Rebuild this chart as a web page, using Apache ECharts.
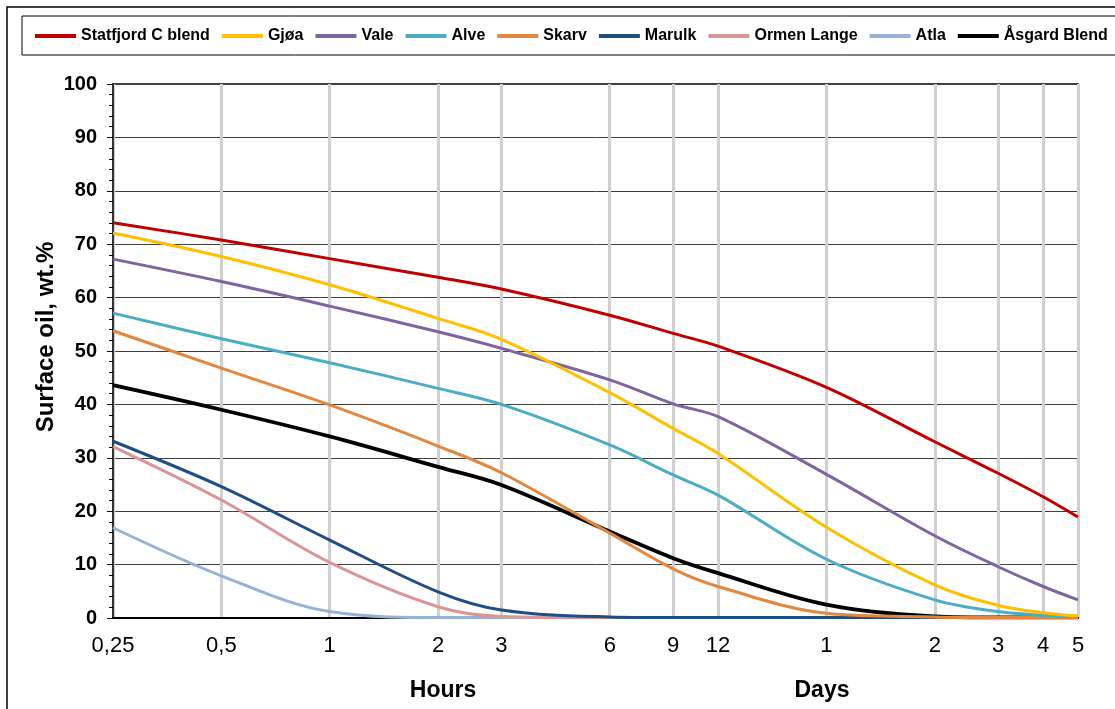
<!DOCTYPE html>
<html><head><meta charset="utf-8">
<script src="https://cdn.jsdelivr.net/npm/echarts@6/dist/echarts.min.js"></script>
<style>html,body{margin:0;padding:0;background:#fff}#c{width:1115px;height:709px}</style>
</head><body><div id="c"></div>
<script>
// time in hours
const hours = [0.25, 0.5, 1, 2, 3, 6, 9, 12, 24, 48, 72, 96, 120];
const tickValues = [0.25, 0.5, 1, 2, 3, 6, 9, 12, 24, 48, 72, 96, 120];
const tickLabels = ['0,25', '0,5', '1', '2', '3', '6', '9', '12', '1', '2', '3', '4', '5'];

const statfjord = [74.0, 70.8, 67.3, 63.8, 61.6, 56.7, 53.3, 50.9, 43.2, 33.0, 27.1, 22.7, 18.9];
const gjoa      = [72.1, 67.7, 62.4, 56.1, 52.2, 42.2, 35.5, 30.8, 17.0, 6.2, 2.4, 1.0, 0.4];
const vale      = [67.2, 63.0, 58.4, 53.6, 50.5, 44.6, 40.1, 37.7, 26.9, 15.4, 9.6, 5.9, 3.4];
const alve      = [57.1, 52.3, 47.8, 43.0, 40.0, 32.4, 26.8, 23.0, 11.0, 3.4, 1.2, 0.5, 0.3];
const skarv     = [53.8, 46.8, 39.9, 32.2, 27.2, 15.9, 9.2, 5.9, 0.9, 0.2, 0.1, 0.1, 0.1];
const marulk    = [33.1, 24.6, 14.6, 4.9, 1.5, 0.2, 0.1, 0.1, 0.1, 0.1, 0.1, 0.1, 0.1];
const ormen     = [32.1, 22.1, 10.4, 2.1, 0.3, 0.1, 0.1, 0.1, 0.1, 0.1, 0.1, 0.1, 0.1];
const atla      = [16.9, 7.9, 1.2, 0.1, 0.1, 0.1, 0.1, 0.1, 0.1, 0.1, 0.1, 0.1, 0.1];
const asgard    = [43.6, 39.0, 34.0, 28.3, 24.9, 16.2, 11.2, 8.4, 2.5, 0.3, 0.1, 0.1, 0.1];

const seriesNames = ['Statfjord C blend', 'Gjøa', 'Vale', 'Alve', 'Skarv', 'Marulk', 'Ormen Lange', 'Atla', 'Åsgard Blend'];
const seriesValues = [statfjord, gjoa, vale, alve, skarv, marulk, ormen, atla, asgard];
const seriesColors = ['#C00000', '#FFC000', '#8064A2', '#4BACC6', '#E2873D', '#1F4E85', '#D99694', '#95B3D7', '#000000'];

const FONT = 'Liberation Sans, Arial, sans-serif';

function labelFor(v) {
  let best = 0, bd = Infinity;
  for (let i = 0; i < tickValues.length; i++) {
    const d = Math.abs(Math.log(v) - Math.log(tickValues[i]));
    if (d < bd) { bd = d; best = i; }
  }
  return tickLabels[best];
}

const chart = echarts.init(document.getElementById('c'), null, {renderer: 'canvas'});
chart.setOption({
  animation: false,
  backgroundColor: '#fff',
  grid: {left: 113, right: 37, top: 84, bottom: 91, show: true, borderColor: '#000', borderWidth: 1.5, containLabel: false},
  legend: {
    left: 35, right: 0, top: 28, padding: 0, itemWidth: 41, itemHeight: 4, itemGap: 12, icon: 'rect',
    textStyle: {fontFamily: FONT, fontWeight: 'bold', fontSize: 16, color: '#000'},
    data: seriesNames
  },
  xAxis: {
    type: 'log', logBase: 10, min: 0.25, max: 120,
    axisLine: {show: true, lineStyle: {color: '#000', width: 2}},
    axisTick: {show: false, customValues: tickValues},
    axisLabel: {customValues: tickValues, formatter: v => labelFor(v), fontFamily: FONT, fontSize: 22, color: '#000', margin: 17},
    splitLine: {show: true, lineStyle: {color: '#d0d0d0', width: 3}},
    minorTick: {show: false}, minorSplitLine: {show: false}
  },
  yAxis: {
    type: 'value', min: 0, max: 100, interval: 10,
    axisLine: {show: true, lineStyle: {color: '#000', width: 1.5}},
    axisTick: {show: true, length: 6, lineStyle: {color: '#000'}},
    minorTick: {show: true, splitNumber: 5, length: 4, lineStyle: {color: '#000'}},
    axisLabel: {fontFamily: FONT, fontWeight: 'bold', fontSize: 20, color: '#000', margin: 16},
    splitLine: {show: true, lineStyle: {color: '#404040', width: 1}}
  },
  graphic: [
    {type: 'rect', shape: {x: 7, y: 7, width: 1200, height: 800}, style: {fill: 'none', stroke: '#000', lineWidth: 1.5}, silent: true, z: -1},
    {type: 'rect', shape: {x: 22, y: 16, width: 1200, height: 39}, style: {fill: 'none', stroke: '#000', lineWidth: 1}, silent: true, z: -1},
    {type: 'text', x: 46, y: 337, rotation: Math.PI / 2, style: {text: 'Surface oil, wt.%', fontFamily: FONT, fontWeight: 'bold', fontSize: 24, fill: '#000', textAlign: 'center', textVerticalAlign: 'middle'}},
    {type: 'text', x: 443, y: 691, style: {text: 'Hours', fontFamily: FONT, fontWeight: 'bold', fontSize: 23, fill: '#000', textAlign: 'center', textVerticalAlign: 'middle'}},
    {type: 'text', x: 822, y: 691, style: {text: 'Days', fontFamily: FONT, fontWeight: 'bold', fontSize: 23, fill: '#000', textAlign: 'center', textVerticalAlign: 'middle'}}
  ],
  series: seriesNames.map((name, i) => ({
    name: name, type: 'line', showSymbol: false, smooth: 0.35,
    color: seriesColors[i],
    lineStyle: {color: seriesColors[i], width: i === 8 ? 3.8 : 3},
    data: hours.map((h, j) => [h, seriesValues[i][j]]),
    z: 10 - i
  }))
});
</script>
</body></html>
